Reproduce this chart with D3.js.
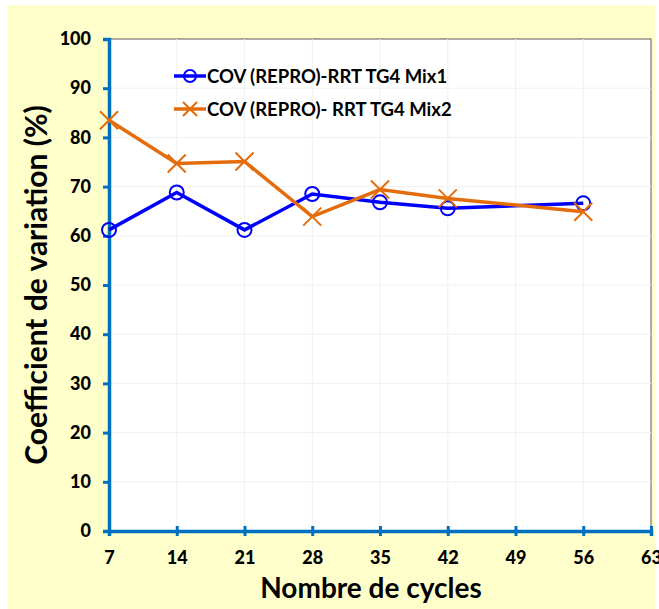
<!DOCTYPE html>
<html>
<head>
<meta charset="utf-8">
<script src="https://cdn.jsdelivr.net/npm/d3@7"></script>
<style>
  body { margin: 0; background: #fff; }
  text { font-family: Lato, "Open Sans", sans-serif; font-weight: bold; fill: #000; }
</style>
</head>
<body>
<svg id="vis" width="659" height="609"></svg>
<script>
// chart data
const cycles = [7, 14, 21, 28, 35, 42, 56];
const mix1 = [61.2, 68.8, 61.2, 68.5, 66.8, 65.6, 66.6];
const mix2 = [83.5, 74.7, 75.1, 63.9, 69.4, 67.6, 64.9];
const xTicks = [7, 14, 21, 28, 35, 42, 49, 56, 63];
const yTicks = [0, 10, 20, 30, 40, 50, 60, 70, 80, 90, 100];
const seriesNames = ["COV (REPRO)-RRT TG4 Mix1", "COV (REPRO)- RRT TG4 Mix2"];

const MARGINS = {top: 39, right: 8, bottom: 78, left: 109};
const W = 659, H = 609;

const svg = d3.select("#vis");

// yellow frame
svg.append("rect").attr("x", 8).attr("y", 5).attr("width", 647).attr("height", 604)
    .attr("fill", "#ffffcc");

const x = d3.scaleLinear().domain([7, 63]).range([MARGINS.left, 651]);
const y = d3.scaleLinear().domain([0, 100]).range([531, MARGINS.top]);

// plot area
svg.append("rect").attr("x", x(7)).attr("y", y(100))
    .attr("width", x(63) - x(7)).attr("height", y(0) - y(100))
    .attr("fill", "#fff").attr("stroke", "#595959").attr("stroke-width", 1);

// gridlines
svg.append("g").selectAll("line").data(yTicks.slice(1, -1)).enter().append("line")
    .attr("x1", x(7)).attr("x2", x(63))
    .attr("y1", d => y(d)).attr("y2", d => y(d))
    .attr("stroke", "#f0f0f0").attr("stroke-width", 1);
svg.append("g").selectAll("line").data(xTicks.slice(1, -1)).enter().append("line")
    .attr("y1", y(0)).attr("y2", y(100))
    .attr("x1", d => x(d)).attr("x2", d => x(d))
    .attr("stroke", "#f0f0f0").attr("stroke-width", 1);

// axes
const axisColor = "#0070c0";
const yAxis = svg.append("g")
    .attr("transform", `translate(${x(7)},0)`)
    .call(d3.axisLeft(y).tickValues(yTicks).tickSize(6).tickPadding(12));
const xAxis = svg.append("g")
    .attr("transform", `translate(0,${y(0)})`)
    .call(d3.axisBottom(x).tickValues(xTicks).tickSize(5).tickPadding(15));

[xAxis, yAxis].forEach(function(a){
    a.select(".domain").attr("stroke", axisColor).attr("stroke-width", 3.5);
    a.selectAll(".tick line").attr("stroke", axisColor).attr("stroke-width", 3);
    a.selectAll(".tick text").style("font-size", "18px").style("font-weight", "900").attr("fill", "#000");
});
xAxis.selectAll(".tick line").attr("y1", -5);

// series
const line = d3.line().x(d => x(d[0])).y(d => y(d[1]));
const data1 = cycles.map((c, i) => [c, mix1[i]]);
const data2 = cycles.map((c, i) => [c, mix2[i]]);
const blue = "#0000ff", orange = "#e46c0a";

function drawCross(g, cx, cy, r, color){
    g.append("path")
        .attr("d", `M${cx - r},${cy - r}L${cx + r},${cy + r}M${cx - r},${cy + r}L${cx + r},${cy - r}`)
        .attr("stroke", color).attr("stroke-width", 2).attr("fill", "none");
}

const g1 = svg.append("g");
g1.append("path").datum(data1).attr("d", line)
    .attr("fill", "none").attr("stroke", blue).attr("stroke-width", 3.5);
g1.selectAll("circle").data(data1).enter().append("circle")
    .attr("cx", d => x(d[0])).attr("cy", d => y(d[1])).attr("r", 7)
    .attr("fill", "none").attr("stroke", blue).attr("stroke-width", 2);

const g2 = svg.append("g");
g2.append("path").datum(data2).attr("d", line)
    .attr("fill", "none").attr("stroke", orange).attr("stroke-width", 3.5);
data2.forEach(d => drawCross(g2, x(d[0]), y(d[1]), 9, orange));

// legend
const legend = svg.append("g");
[0, 1].forEach(function(i){
    const ly = 76 + i * 33;
    const color = i === 0 ? blue : orange;
    legend.append("line").attr("x1", 174).attr("x2", 206).attr("y1", ly).attr("y2", ly)
        .attr("stroke", color).attr("stroke-width", 3.5);
    if (i === 0) {
        legend.append("circle").attr("cx", 190).attr("cy", ly).attr("r", 6)
            .attr("fill", "none").attr("stroke", color).attr("stroke-width", 2);
    } else {
        drawCross(legend, 190, ly, 7, color);
    }
    legend.append("text").attr("x", 207).attr("y", ly).attr("dy", "0.36em")
        .style("font-size", "18.5px").text(seriesNames[i]);
});

// axis titles
svg.append("text")
    .attr("transform", `translate(47,285) rotate(-90)`)
    .attr("text-anchor", "middle")
    .style("font-size", "30px")
    .text("Coefficient de variation (%)");
svg.append("text")
    .attr("x", 371).attr("y", 598)
    .attr("text-anchor", "middle")
    .style("font-size", "28px")
    .text("Nombre de cycles");
</script>
</body>
</html>
